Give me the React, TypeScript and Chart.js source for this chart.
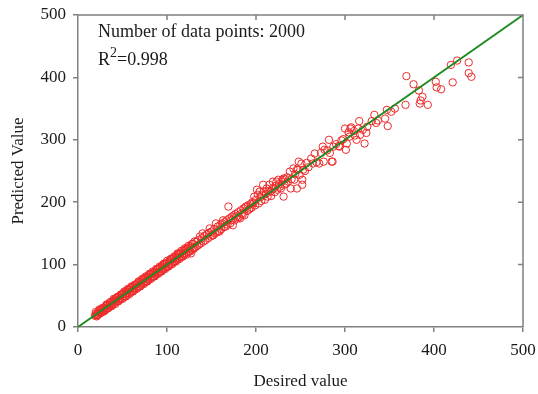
import React, { useEffect, useRef } from "react";
import { Chart, registerables } from "chart.js";

Chart.register(...registerables);

// Desired (x) and predicted (y) values
const desiredLowA: number[] = [
  19, 20, 21, 22, 23, 24, 25, 26, 27, 28, 29, 30, 31, 32, 33, 34, 35, 36, 37, 38, 39, 40,
  41, 42, 43, 44, 45, 46, 47, 48, 49, 50, 51, 52, 53, 54, 55, 56, 57, 58, 59, 60, 61, 62,
  63, 64, 65, 66, 67, 68, 69, 70, 71, 72, 73, 74, 75, 76, 77, 78, 79, 80, 81, 82, 83, 84,
  85, 86, 87, 88, 89, 90, 91, 92, 93, 94, 95, 96, 97, 98, 99, 100, 101, 102, 103, 104, 105,
  106, 107, 108, 109, 110, 111, 112, 113, 114, 115, 116, 117, 118, 119, 120, 121, 122, 123,
  124, 125, 126, 127, 128, 129, 130,
];
const predictedLowA: number[] = [
  18, 21, 19, 23, 20, 25, 22, 27, 24, 29, 27, 31, 28, 34, 30, 36, 33, 38, 35, 40, 36, 42,
  39, 44, 41, 47, 42, 49, 45, 51, 46, 53, 49, 55, 50, 57, 52, 59, 54, 60, 57, 63, 58, 65,
  60, 67, 62, 68, 64, 71, 66, 73, 68, 75, 70, 77, 72, 79, 74, 81, 76, 83, 78, 85, 80, 87,
  82, 88, 84, 91, 86, 93, 88, 95, 90, 97, 92, 99, 94, 101, 96, 103, 98, 105, 100, 107, 101,
  109, 104, 111, 106, 113, 108, 116, 110, 117, 112, 119, 114, 122, 116, 123, 118, 125, 120,
  127, 122, 129, 118, 124, 133, 127,
];

const desiredLowB: number[] = [
  20, 22, 24, 26, 28, 30, 32, 34, 36, 38, 40, 42, 44, 46, 48, 50, 52, 54, 56, 58, 60, 62,
  64, 66, 68, 70, 72, 74, 76, 78, 80, 82, 84, 86, 88, 90, 92, 94, 96, 98, 100, 102, 104,
  106, 108, 110, 112, 114, 116, 118, 120, 122, 124, 126, 128, 130,
  21, 25, 29, 33, 37, 41, 45, 49, 53, 57, 61, 65, 69, 73, 77, 81, 85, 89, 93, 97, 101, 105,
  109, 113, 117, 121, 125, 129,
];
const predictedLowB: number[] = [
  24, 19, 28, 23, 31, 26, 36, 30, 40, 34, 45, 37, 48, 42, 52, 45, 57, 49, 61, 53, 65, 57,
  68, 61, 73, 65, 77, 69, 81, 73, 85, 77, 89, 81, 93, 85, 97, 89, 101, 93, 106, 97, 109,
  101, 113, 105, 118, 109, 122, 113, 126, 116, 130, 121, 133, 125,
  17, 28, 25, 36, 33, 44, 41, 52, 49, 60, 57, 68, 65, 76, 73, 84, 81, 93, 89, 101, 97, 109,
  105, 117, 113, 125, 122, 133,
];

const desiredHigh: number[] = [
  131, 132, 133, 134, 135, 136, 137, 138, 139, 140, 141, 142, 143, 145, 146, 147, 148, 149,
  150, 151, 152, 153, 154, 155, 156, 157, 158, 159, 160, 161, 162, 163, 164, 165, 166, 167,
  168, 169, 170, 171, 172, 173, 174, 175, 176, 177, 178, 179, 180, 181, 182, 183, 184, 185,
  186, 187, 188, 189, 190, 191, 192, 193, 194, 195, 196, 197, 198, 199, 200, 201, 202, 203,
  204, 205, 206, 207, 208, 209, 210, 211, 212, 213, 214, 215, 216, 217, 218, 219, 220, 221,
  222, 223, 224, 225, 226, 227, 228, 229, 230, 231, 231, 232, 233, 234, 235, 236, 238, 239,
  240, 242, 243, 244, 246, 246, 247, 248, 249, 251, 252, 252, 253, 255, 257, 259, 262, 264,
  266, 268, 271, 273, 275, 276, 277, 280, 282, 283, 285, 286, 287, 290, 293, 294, 296, 298,
  300, 301, 302, 304, 305, 306, 307, 310, 311, 313, 315, 316, 317, 320, 322, 324, 325, 330,
  333, 335, 337, 345, 347, 348, 352, 356, 368, 369, 377, 383, 385, 387, 384, 393, 402, 403,
  408, 419, 421, 426, 439, 439, 442,
];
const predictedHigh: number[] = [
  137, 128, 137, 130, 139, 132, 145, 134, 142, 150, 137, 146, 139, 149, 142, 151, 158, 145,
  153, 147, 147, 157, 150, 166, 152, 161, 154, 153, 164, 157, 166, 171, 160, 168, 161, 171,
  164, 193, 174, 166, 171, 177, 163, 179, 171, 181, 177, 174, 184, 176, 174, 187, 182, 180,
  190, 179, 192, 193, 186, 195, 188, 190, 197, 191, 200, 198, 209, 195, 204, 220, 212, 198,
  217, 208, 202, 211, 228, 217, 204, 213, 222, 209, 218, 228, 217, 210, 221, 233, 222, 216,
  226, 233, 220, 236, 229, 225, 222, 233, 236, 238, 209, 228, 237, 230, 240, 233, 249, 222,
  237, 254, 236, 245, 222, 252, 252, 265, 244, 262, 228, 236, 252, 250, 263, 256, 270, 262,
  278, 264, 262, 279, 289, 265, 284, 283, 300, 279, 265, 265, 289, 293, 290, 289, 299, 301,
  318, 284, 294, 312, 305, 318, 320, 314, 307, 300, 318, 330, 308, 316, 294, 311, 321, 330,
  340, 327, 331, 334, 348, 322, 345, 350, 356, 402, 389, 379, 363, 369, 358, 356, 393, 384,
  381, 420, 392, 427, 424, 407, 401,
];

const refLine = [0, 500];
const xTicks = [0, 100, 200, 300, 400, 500];
const yTicks = [0, 100, 200, 300, 400, 500];
const xTitle = "Desired value";
const yTitle = "Predicted Value";
const noteLine1 = "Number of data points: 2000";
const noteR2 = "0.998";

const AXIS = "#808080";
const SERIF = "'Liberation Serif', 'DejaVu Serif', serif";

const framePlugin = {
  id: "frame",
  afterDatasetsDraw(chart: any) {
    const { ctx, chartArea: a, scales } = chart;
    ctx.save();
    ctx.strokeStyle = AXIS;
    ctx.lineWidth = 1.5;
    ctx.beginPath();
    ctx.moveTo(a.left, a.top);
    ctx.lineTo(a.right, a.top);
    ctx.lineTo(a.right, a.bottom);
    xTicks.slice(1, -1).forEach((v) => {
      const px = scales.x.getPixelForValue(v);
      ctx.moveTo(px, a.top);
      ctx.lineTo(px, a.top + 5);
    });
    yTicks.slice(1, -1).forEach((v) => {
      const py = scales.y.getPixelForValue(v);
      ctx.moveTo(a.right, py);
      ctx.lineTo(a.right - 5, py);
    });
    ctx.stroke();

    ctx.fillStyle = "#1a1a1a";
    ctx.textBaseline = "alphabetic";
    ctx.textAlign = "left";
    ctx.font = `18px ${SERIF}`;
    const tx = a.left + 20;
    ctx.fillText(noteLine1, tx, a.top + 22);
    const y2 = a.top + 50;
    ctx.fillText("R", tx, y2);
    const rw = ctx.measureText("R").width;
    ctx.font = `14px ${SERIF}`;
    ctx.fillText("2", tx + rw, y2 - 8);
    const sw = ctx.measureText("2").width;
    ctx.font = `18px ${SERIF}`;
    ctx.fillText("=" + noteR2, tx + rw + sw, y2);
    ctx.restore();
  },
};

export default function App() {
  const ref = useRef<HTMLCanvasElement>(null);
  useEffect(() => {
    document.body.style.margin = "0";
    const desired = [...desiredLowA, ...desiredLowB, ...desiredHigh];
    const predicted = [...predictedLowA, ...predictedLowB, ...predictedHigh];
    const points = desired.map((d, i) => ({ x: d, y: predicted[i] }));
    const chart = new Chart(ref.current!, {
      type: "scatter",
      data: {
        datasets: [
          {
            data: refLine.map((v) => ({ x: v, y: v })),
            showLine: true,
            borderColor: "#1f8a1f",
            borderWidth: 2,
            pointRadius: 0,
            clip: false,
          } as any,
          {
            data: points,
            pointStyle: "circle",
            pointRadius: 3.7,
            borderWidth: 1,
            borderColor: "#ee2a2a",
            backgroundColor: "rgba(0,0,0,0)",
          },
        ],
      },
      options: {
        animation: false,
        responsive: false,
        maintainAspectRatio: false,
        layout: { padding: { left: 0, right: 15, top: 15, bottom: 0 } },
        plugins: { legend: { display: false }, tooltip: { enabled: false } },
        scales: {
          x: {
            type: "linear",
            min: 0,
            max: 500,
            afterBuildTicks: (s: any) => {
              s.ticks = xTicks.map((v) => ({ value: v }));
            },
            afterFit: (s: any) => {
              s.height = 67;
              s.paddingLeft = 0;
              s.paddingRight = 0;
            },
            ticks: { color: "#1a1a1a", font: { family: SERIF, size: 17 }, padding: 8, maxRotation: 0 },
            grid: { drawOnChartArea: false, drawTicks: true, tickLength: 5, color: AXIS, lineWidth: 1.5 },
            border: { display: true, color: AXIS, width: 1.5 },
            title: {
              display: true,
              text: xTitle,
              color: "#1a1a1a",
              font: { family: SERIF, size: 17 },
              padding: { top: 0, bottom: 2 },
            },
          },
          y: {
            type: "linear",
            min: 0,
            max: 500,
            afterBuildTicks: (s: any) => {
              s.ticks = yTicks.map((v) => ({ value: v }));
            },
            afterFit: (s: any) => {
              s.width = 78;
              s.paddingTop = 0;
              s.paddingBottom = 0;
            },
            ticks: { color: "#1a1a1a", font: { family: SERIF, size: 17 }, padding: 7 },
            grid: { drawOnChartArea: false, drawTicks: true, tickLength: 5, color: AXIS, lineWidth: 1.5 },
            border: { display: true, color: AXIS, width: 1.5 },
            title: {
              display: true,
              text: yTitle,
              color: "#1a1a1a",
              font: { family: SERIF, size: 17 },
              padding: { top: 8, bottom: 0 },
            },
          },
        },
      },
      plugins: [framePlugin],
    });
    return () => chart.destroy();
  }, []);
  return (
    <div style={{ position: "absolute", left: 0, top: 0, width: 538, height: 394 }}>
      <canvas ref={ref} width={538} height={394} style={{ width: 538, height: 394 }} />
    </div>
  );
}
